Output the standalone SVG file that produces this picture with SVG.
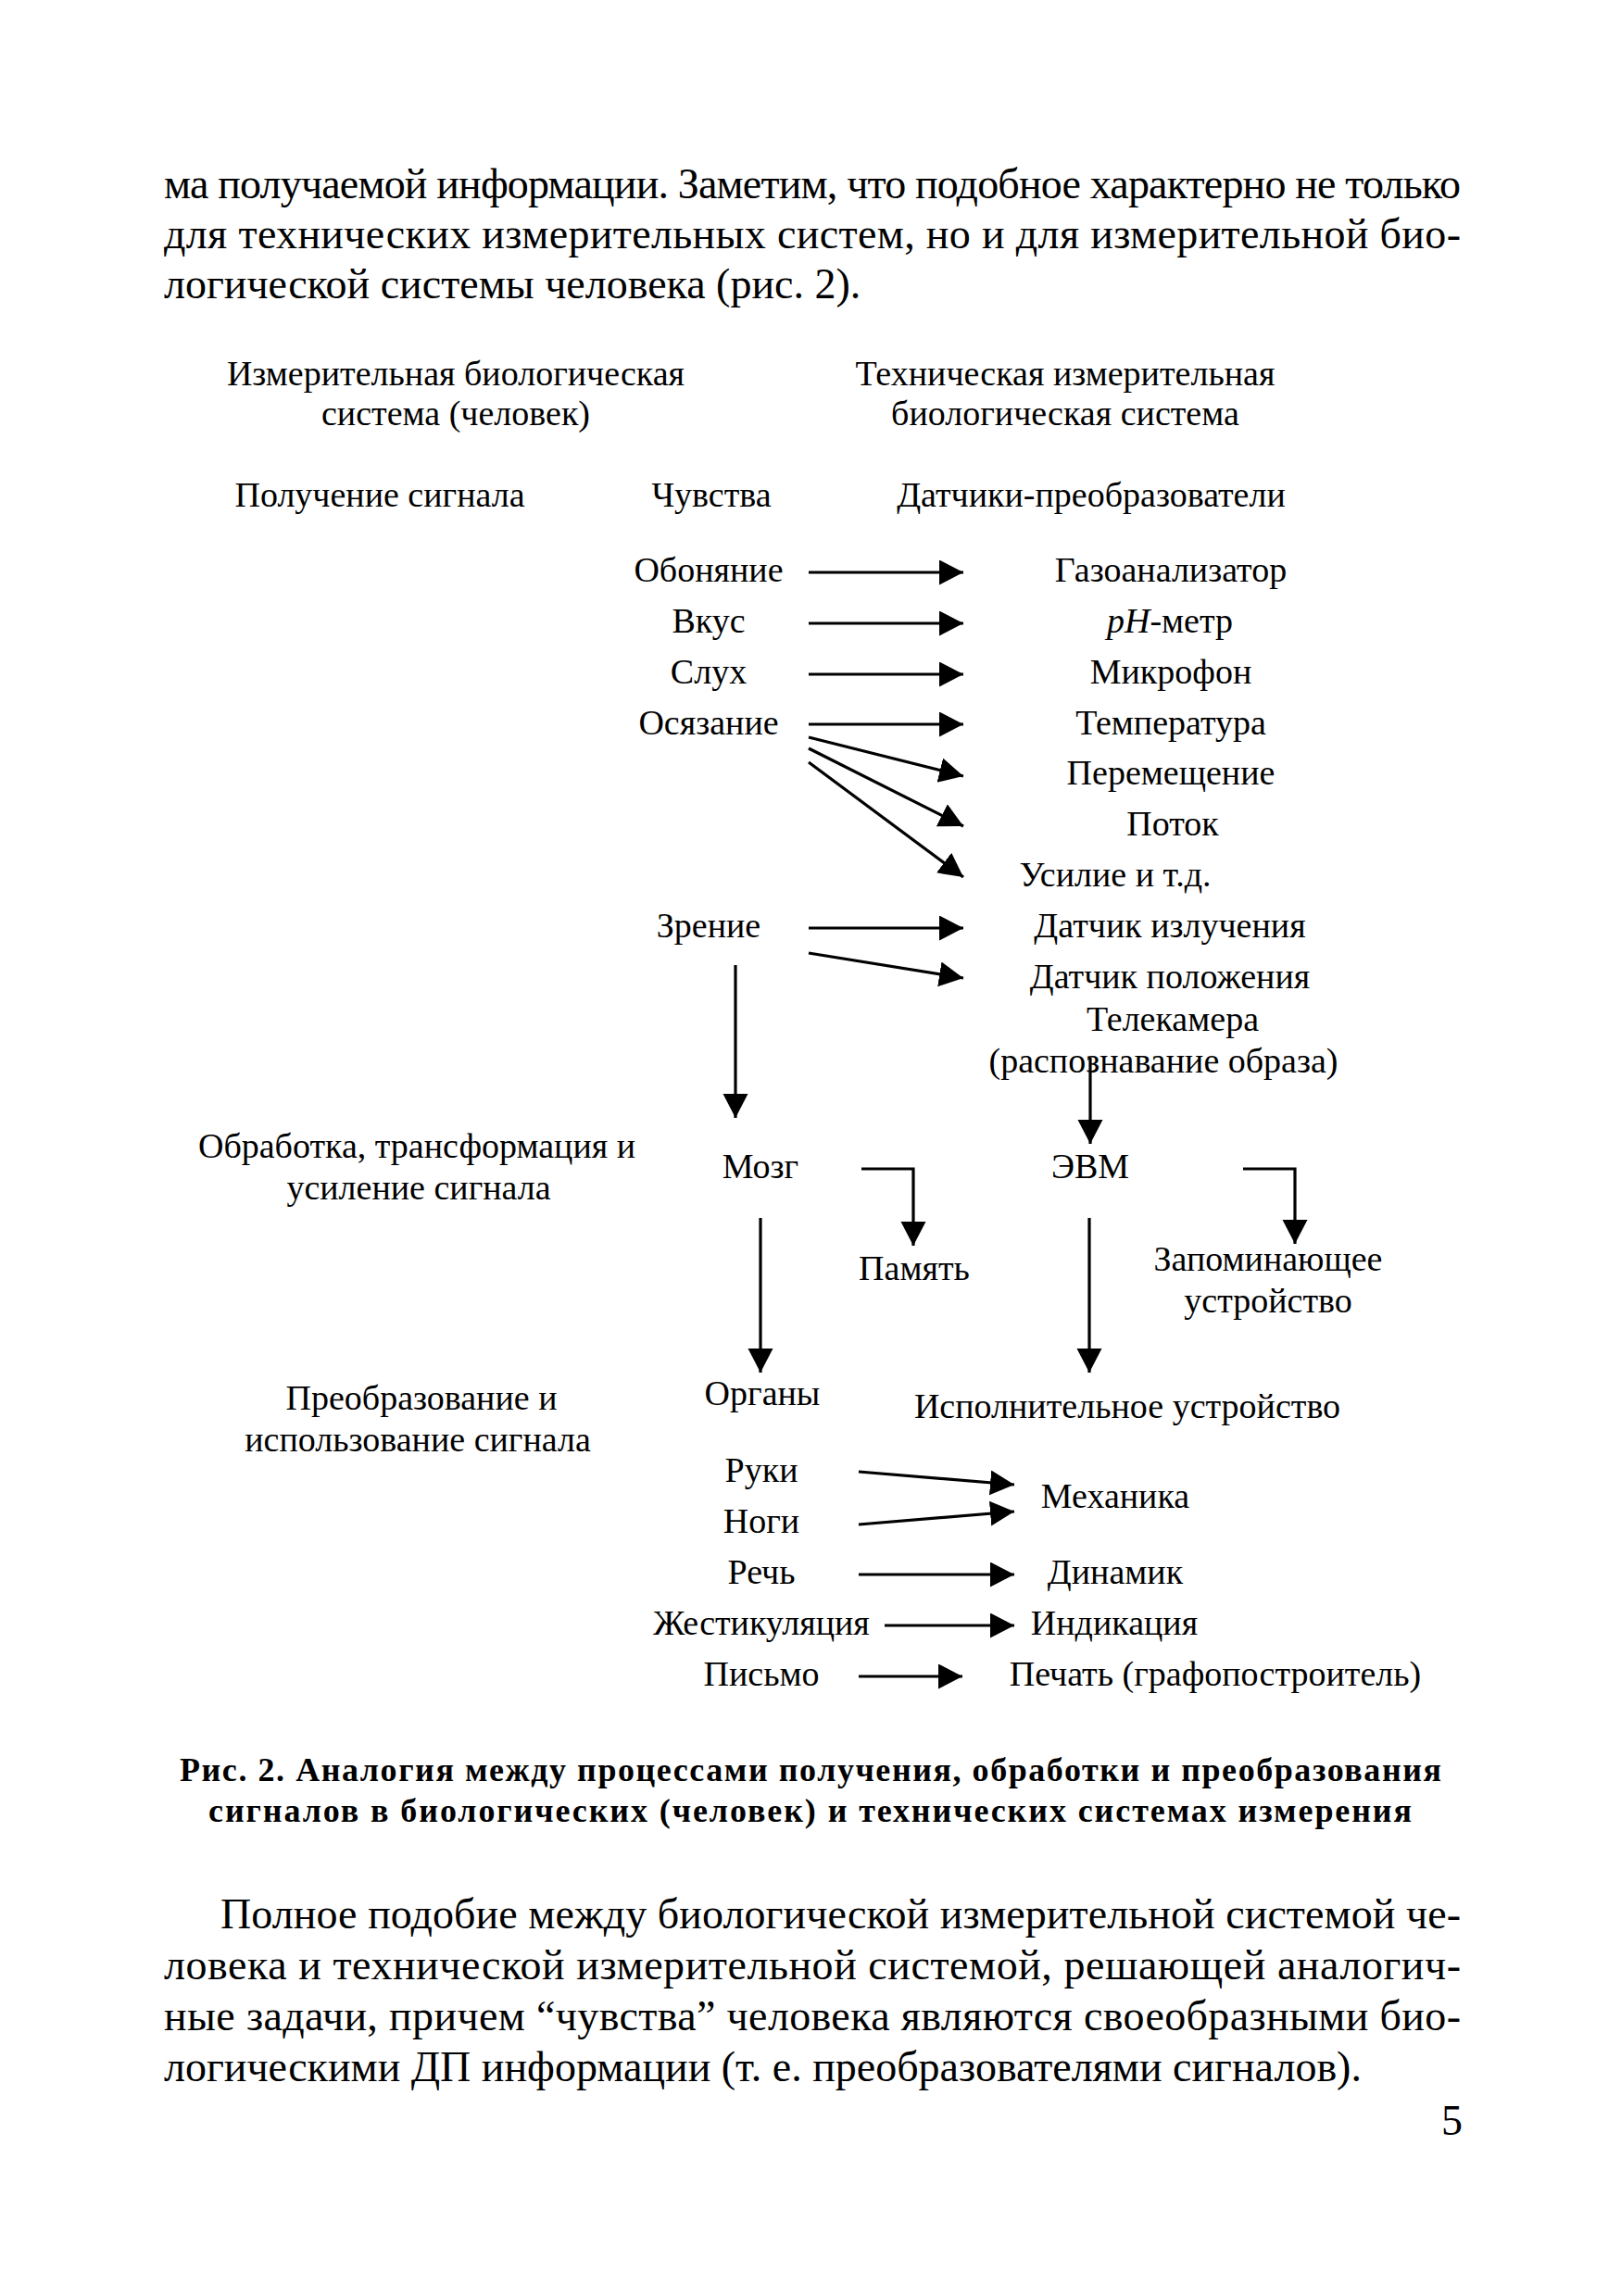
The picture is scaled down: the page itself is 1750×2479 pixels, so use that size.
<svg xmlns="http://www.w3.org/2000/svg" width="1750" height="2479" viewBox="0 0 1750 2479">
<style>
text{font-family:"Liberation Serif","Times New Roman",serif;fill:#000}
.t{font-size:38px;text-anchor:middle}
.p{font-size:46px}
.c{font-size:36px;font-weight:bold}
.ln{stroke:#000;stroke-width:3.2;fill:none;marker-end:url(#ah)}
</style>
<defs>
<marker id="ah" markerUnits="userSpaceOnUse" markerWidth="27" markerHeight="28" refX="26" refY="13.5" orient="auto" viewBox="0 0 27 28">
<path d="M0,0 L26,13.5 L0,27 z" fill="#000"/>
</marker>
</defs>
<rect width="1750" height="2479" fill="#fff"/>
<g id="para1">
<text class="p" x="177" y="214" textLength="1400" lengthAdjust="spacing">ма получаемой информации. Заметим, что подобное характерно не только</text>
<text class="p" x="177" y="268" textLength="1400" lengthAdjust="spacing">для технических измерительных систем, но и для измерительной био-</text>
<text class="p" x="177" y="322">логической системы человека (рис. 2).</text>
</g>
<g id="head-bio"><text class="t" x="492" y="416">Измерительная биологическая</text><text class="t" x="492" y="459">система (человек)</text></g>
<g id="head-tech"><text class="t" x="1150" y="416">Техническая измерительная</text><text class="t" x="1150" y="459">биологическая система</text></g>
<g id="stage1"><text class="t" x="410" y="547">Получение сигнала</text></g>
<g id="senses"><text class="t" x="768" y="547">Чувства</text></g>
<g id="sensors"><text class="t" x="1178" y="547">Датчики-преобразователи</text></g>
<g id="smell"><text class="t" x="765" y="628">Обоняние</text></g>
<g id="gas"><text class="t" x="1264" y="628">Газоанализатор</text></g>
<g id="taste"><text class="t" x="765" y="683">Вкус</text></g>
<g id="ph"><text class="t" x="1263" y="683"><tspan font-style="italic">pH</tspan>-метр</text></g>
<g id="hearing"><text class="t" x="765" y="738">Слух</text></g>
<g id="mic"><text class="t" x="1264" y="738">Микрофон</text></g>
<g id="touch"><text class="t" x="765" y="793">Осязание</text></g>
<g id="temp"><text class="t" x="1264" y="793">Температура</text></g>
<g id="move"><text class="t" x="1264" y="847">Перемещение</text></g>
<g id="flow"><text class="t" x="1266" y="902">Поток</text></g>
<g id="force"><text class="t" x="1204" y="957">Усилие и т.д.</text></g>
<g id="vision"><text class="t" x="765" y="1012">Зрение</text></g>
<g id="rad"><text class="t" x="1263" y="1012">Датчик излучения</text></g>
<g id="pos"><text class="t" x="1263" y="1067">Датчик положения</text></g>
<g id="cam"><text class="t" x="1266" y="1113">Телекамера</text><text class="t" x="1256" y="1158">(распознавание образа)</text></g>
<g id="stage2"><text class="t" x="450" y="1250">Обработка, трансформация и</text><text class="t" x="452" y="1295">усиление сигнала</text></g>
<g id="brain"><text class="t" x="821" y="1272">Мозг</text></g>
<g id="computer"><text class="t" x="1177" y="1272">ЭВМ</text></g>
<g id="memory"><text class="t" x="987" y="1382">Память</text></g>
<g id="storage"><text class="t" x="1369" y="1372">Запоминающее</text><text class="t" x="1369" y="1417">устройство</text></g>
<g id="stage3"><text class="t" x="455" y="1522">Преобразование и</text><text class="t" x="451" y="1567">использование сигнала</text></g>
<g id="organs"><text class="t" x="823" y="1517">Органы</text></g>
<g id="actuator"><text class="t" x="1217" y="1531">Исполнительное устройство</text></g>
<g id="hands"><text class="t" x="822" y="1600">Руки</text></g>
<g id="legs"><text class="t" x="822" y="1655">Ноги</text></g>
<g id="mech"><text class="t" x="1204" y="1628">Механика</text></g>
<g id="speech"><text class="t" x="822" y="1710">Речь</text></g>
<g id="speaker"><text class="t" x="1204" y="1710">Динамик</text></g>
<g id="gesture"><text class="t" x="822" y="1765">Жестикуляция</text></g>
<g id="display"><text class="t" x="1203" y="1765">Индикация</text></g>
<g id="writing"><text class="t" x="822" y="1820">Письмо</text></g>
<g id="print"><text class="t" x="1312" y="1820">Печать (графопостроитель)</text></g>
<g id="connectors">
<line class="ln" x1="873" y1="618" x2="1040" y2="618"/>
<line class="ln" x1="873" y1="673" x2="1040" y2="673"/>
<line class="ln" x1="873" y1="728" x2="1040" y2="728"/>
<line class="ln" x1="873" y1="782" x2="1040" y2="782"/>
<line class="ln" x1="873" y1="796" x2="1040" y2="838"/>
<line class="ln" x1="873" y1="808" x2="1040" y2="892"/>
<line class="ln" x1="873" y1="823" x2="1040" y2="947"/>
<line class="ln" x1="873" y1="1002" x2="1040" y2="1002"/>
<line class="ln" x1="873" y1="1029" x2="1040" y2="1056"/>
<line class="ln" x1="794" y1="1042" x2="794" y2="1207"/>
<line class="ln" x1="1177" y1="1142" x2="1177" y2="1235"/>
<path class="ln" d="M930,1262 H986 V1345"/>
<path class="ln" d="M1342,1262 H1398 V1343"/>
<line class="ln" x1="821" y1="1315" x2="821" y2="1482"/>
<line class="ln" x1="1176" y1="1315" x2="1176" y2="1482"/>
<line class="ln" x1="927" y1="1589" x2="1095" y2="1603"/>
<line class="ln" x1="927" y1="1646" x2="1095" y2="1632"/>
<line class="ln" x1="927" y1="1700" x2="1095" y2="1700"/>
<line class="ln" x1="955" y1="1755" x2="1095" y2="1755"/>
<line class="ln" x1="927" y1="1810" x2="1039" y2="1810"/>
</g>
<g id="caption">
<text class="c" x="194" y="1923" textLength="1362" lengthAdjust="spacing">Рис. 2. Аналогия между процессами получения, обработки и преобразования</text>
<text class="c" x="225" y="1967" textLength="1299" lengthAdjust="spacing">сигналов в биологических (человек) и технических системах измерения</text>
</g>
<g id="para2">
<text class="p" x="238" y="2082" textLength="1339" lengthAdjust="spacing">Полное подобие между биологической измерительной системой че-</text>
<text class="p" x="177" y="2137" textLength="1400" lengthAdjust="spacing">ловека и технической измерительной системой, решающей аналогич-</text>
<text class="p" x="177" y="2192" textLength="1400" lengthAdjust="spacing">ные задачи, причем “чувства” человека являются своеобразными био-</text>
<text class="p" x="177" y="2247">логическими ДП информации (т. е. преобразователями сигналов).</text>
<text class="p" x="1556" y="2305">5</text>
</g>
</svg>
